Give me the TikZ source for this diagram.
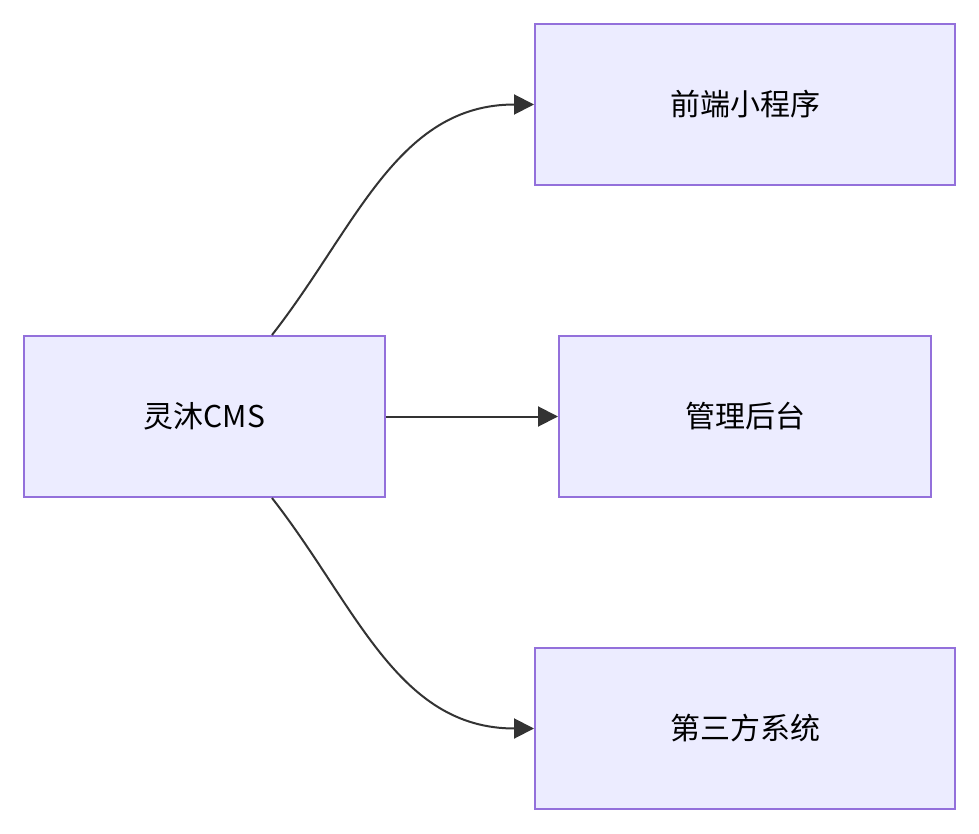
\documentclass[tikz,border=0pt]{standalone}
\usepackage{fontspec}
\setmainfont{Noto Sans CJK SC}
\usetikzlibrary{arrows.meta,positioning}
\definecolor{boxfill}{HTML}{ECECFF}
\definecolor{boxline}{HTML}{9370DB}
\definecolor{linkcol}{HTML}{333333}

\begin{document}
\begin{tikzpicture}[x=1pt,y=-1pt,
  box/.style={rectangle,fill=boxfill,draw=boxline,line width=2pt,minimum height=161pt,font=\fontsize{30}{36}\selectfont,inner sep=0pt},
  link/.style={draw=linkcol,line width=2pt,-{Triangle[length=20pt,width=20pt]}}]
   \useasboundingbox (0,0) rectangle (979,834);
   \node[box,minimum width=361pt] (cms) at (204.5,416.5) {灵沐CMS};
   \node[box,minimum width=420pt] (app) at (745,104.5) {前端小程序};
   \node[box,minimum width=372pt] (admin) at (745,416.5) {管理后台};
   \node[box,minimum width=420pt] (third) at (745,728.5) {第三方系统};
    \draw[link] ([xshift=67.5pt]cms.north) to[out=52,in=180] (app.west);
    \draw[link] (cms.east) -- (admin.west);
    \draw[link] ([xshift=67.5pt]cms.south) to[out=-52,in=180] (third.west);
\end{tikzpicture}
\end{document}
